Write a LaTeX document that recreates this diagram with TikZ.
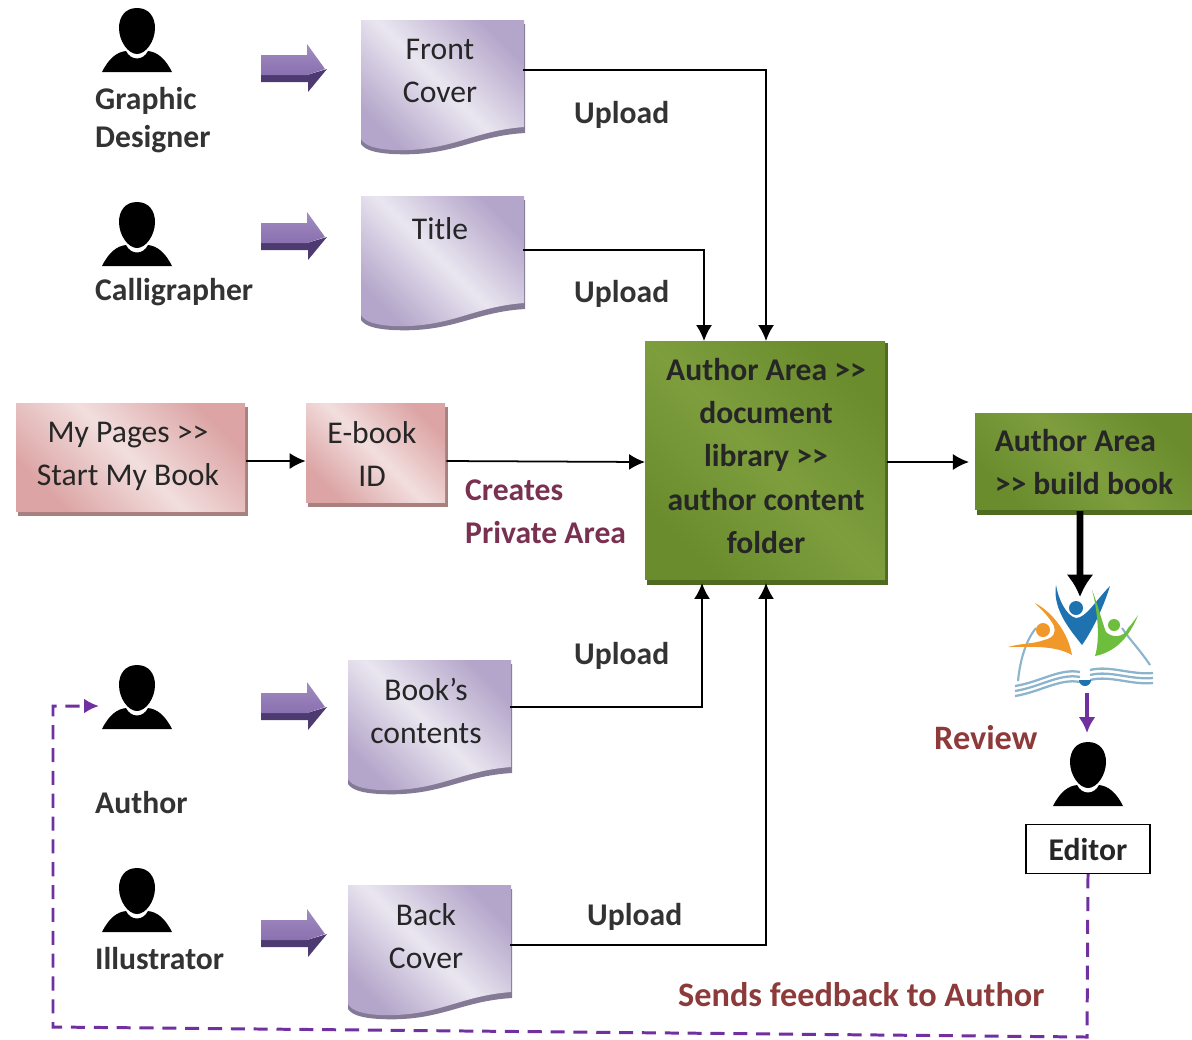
\documentclass[tikz,border=0pt]{standalone}
\usepackage{fontspec}
\setmainfont{Carlito}
\usepackage{xcolor}
\usepackage{tikz}
\usetikzlibrary{arrows.meta, positioning}

\definecolor{docdark}{HTML}{B4A6CA}
\definecolor{doclight}{HTML}{EAE6F0}
\definecolor{docedge}{HTML}{857A96}
\definecolor{pinkdark}{HTML}{DCA4A4}
\definecolor{pinklight}{HTML}{F2DEDE}
\definecolor{pinkedge}{HTML}{A98080}
\definecolor{greendark}{HTML}{6A8C2C}
\definecolor{greenlight}{HTML}{7E9E3E}
\definecolor{greenedge}{HTML}{4F6B20}
\definecolor{arrowface}{HTML}{8A70B0}
\definecolor{arrowedge}{HTML}{4C3A70}
\definecolor{labelbrown}{HTML}{8C3A3A}
\definecolor{labelplum}{HTML}{7A3050}
\definecolor{feedback}{HTML}{7030A0}
\definecolor{logoblue}{HTML}{1F72B0}
\definecolor{logoorange}{HTML}{F0982A}
\definecolor{logogreen}{HTML}{6CBE3C}
\definecolor{logopage}{HTML}{8CB4CC}

\tikzset{
    boxtext/.style={align=center, font=\fontsize{18}{24.4}\selectfont, text=black!85},
    greentext/.style={align=center, font=\fontsize{18}{24.6}\selectfont\bfseries, text=black!85},
    lbl/.style={align=left, anchor=west, font=\fontsize{18}{22}\selectfont\bfseries, text=black!80},
    flow/.style={-{Latex[length=3.2mm, width=3.2mm]}, line width=1pt},
    docshade/.style={left color=docdark, right color=docdark, middle color=doclight, shading angle=135},
    pinkshade/.style={left color=pinkdark, right color=pinkdark, middle color=pinklight, shading angle=135},
    greenshade/.style={left color=greendark, right color=greendark, middle color=greenlight, shading angle=135},
}

\newcommand{\docshape}[2]{
    \begin{scope}[shift={(#1,#2)}]
        \fill[docedge] (0,4) -- (164,4) -- (164,113) .. controls (112,116) and (92,137) .. (32,134) .. controls (14,133) and (4,130) .. (0,124) -- cycle;
        \shade[docshade] (0,0) -- (163,0) -- (163,107) .. controls (110,111) and (90,132) .. (32,130) .. controls (15,129) and (4,126) .. (0,119) -- cycle;
    \end{scope}
}
\newcommand{\person}[2]{
    \begin{scope}[shift={(#1,#2)}]
        \fill (-35,64) .. controls (-28,50) and (-20,44) .. (-11,43) .. controls (-6,53) and (6,53) .. (11,43) .. controls (20,44) and (28,50) .. (35,64) -- cycle;
        \fill (0,0) .. controls (12,0) and (18,9) .. (18,20) .. controls (18,33) and (9,46) .. (0,46) .. controls (-9,46) and (-18,33) .. (-18,20) .. controls (-18,9) and (-12,0) .. (0,0) -- cycle;
    \end{scope}
}
\newcommand{\fatarrow}[2]{
    \begin{scope}[shift={(#1,#2)}]
        \fill[arrowedge] (0,6) -- (0,13) -- (47,13) -- (47,23) -- (66,0) -- (46,6) -- cycle;
        \shade[top color=arrowface!80, bottom color=arrowface] (0,-14) -- (46,-14) -- (46,-25) -- (64,0) -- (46,6) -- (0,6) -- cycle;
    \end{scope}
}

\begin{document}
\begin{tikzpicture}[x=0.02cm, y=-0.02cm]
    \useasboundingbox (0,0) rectangle (1192,1039);

    \docshape{361}{20}
    \docshape{361}{196}
    \docshape{348}{660}
    \docshape{348}{885}

    \fill[pinkedge] (18,407) rectangle (248,516);
    \shade[pinkshade] (16,403) rectangle (245,511);
    \fill[pinkedge] (308,407) rectangle (448,507);
    \shade[pinkshade] (306,403) rectangle (445,502);
    \fill[greenedge] (647,343) rectangle (888,585);
    \shade[greenshade] (645,341) rectangle (885,579);
    \fill[greenedge] (977,415) rectangle (1192,515);
    \shade[greenshade] (975,413) rectangle (1192,509);

    \person{137}{8}
    \person{137}{202}
    \person{137}{665}
    \person{137}{868}
    \person{1088}{742}

    \fatarrow{261}{69}
    \fatarrow{261}{237}
    \fatarrow{261}{707}
    \fatarrow{261}{934}

    \node[boxtext, minimum width=3.32cm] (front) at (440,71) {Front\\Cover};
    \node[boxtext, minimum width=3.32cm] (title) at (440,250) {Title\\~};
    \node[boxtext, minimum width=3.36cm] (books) at (426,711) {Book’s\\contents};
    \node[boxtext, minimum width=3.36cm] (back) at (426,936) {Back\\Cover};
    \node[minimum width=4.6cm, minimum height=2.2cm] (mypages) at (131,461) {};
    \node[boxtext] (mypagestext) at (128,456) {My Pages >{}>\\Start My Book};
    \node[minimum width=2.8cm, minimum height=2cm] (ebook) at (376,461) {};
    \node[boxtext] (ebooktext) at (372,454) {E-book\\ID};
    \node[minimum width=4.84cm, minimum height=4.84cm, outer sep=0pt] (library) at (766,462) {};
    \node[greentext] (librarytext) at (766,456) {Author Area >{}>\\document\\library >{}>\\author content\\folder};
    \node[greentext, align=left, minimum width=4.3cm, minimum height=1.95cm] (build) at (1084,462) {Author Area\\>{}> build book};
    \node[draw, line width=0.8pt, boxtext, font=\fontsize{18}{20}\selectfont\bfseries, minimum width=2.48cm, minimum height=0.98cm, inner sep=0pt] (editor) at (1088,849) {Editor};

    \node[lbl] (designer) at (89,120) {Graphic\\Designer};
    \node[lbl] (calligrapher) at (89,292) {Calligrapher};
    \node[lbl] (author) at (89,802) {Author};
    \node[lbl] (illustrator) at (89,958) {Illustrator};
    \node[lbl] (upfront) at (568,115) {Upload};
    \node[lbl] (uptitle) at (568,294) {Upload};
    \node[lbl] (upbooks) at (568,656) {Upload};
    \node[lbl] (upback) at (581,917) {Upload};
    \node[lbl, text=labelplum, font=\fontsize{18}{24.4}\selectfont\bfseries] (creates) at (459,512) {Creates\\Private Area};
    \node[lbl, text=labelbrown, font=\fontsize{19.5}{22}\selectfont\bfseries] (review) at (928,738) {Review};
    \node[lbl, text=labelbrown, font=\fontsize{19.5}{22}\selectfont\bfseries] (sends) at (672,995) {Sends feedback to Author};

    \coordinate (logo) at (1080,597);
    \coordinate (logobase) at (1087,693);
    \coordinate (editortop) at (1087,733);
    \coordinate (authorin) at (99,706);
    \coordinate (turnright) at (1087,1037);
    \coordinate (turnleft) at (53,1027);
    \coordinate (turnup) at (53,706);

    \draw[logopage, line width=1.2pt] (1018,681) .. controls (1020,660) and (1026,640) .. (1036,628);
    \draw[logopage, line width=1.2pt] (1150,665) .. controls (1140,650) and (1130,640) .. (1122,628);
    \fill[logoorange] (1008,647) .. controls (1022,643) and (1034,644) .. (1044,640) .. controls (1054,638) and (1056,632) .. (1054,626) .. controls (1050,618) and (1042,610) .. (1035,603) .. controls (1052,612) and (1068,632) .. (1072,655) .. controls (1054,645) and (1032,647) .. (1008,647) -- cycle;
    \fill[logoorange] (1043,630) circle (7);
    \fill[logoblue] (1056,585) .. controls (1058,598) and (1066,616) .. (1076,618) .. controls (1086,618) and (1096,600) .. (1110,586) .. controls (1104,605) and (1094,628) .. (1082,645) .. controls (1072,632) and (1052,610) .. (1056,585) -- cycle;
    \fill[logoblue] (1076,608) circle (7);
    \fill[logogreen] (1092,590) .. controls (1098,605) and (1102,622) .. (1106,632) .. controls (1112,638) and (1124,638) .. (1128,628) .. controls (1132,624) and (1136,618) .. (1138,615) .. controls (1130,636) and (1116,652) .. (1095,656) .. controls (1100,640) and (1098,612) .. (1092,590) -- cycle;
    \fill[logogreen] (1114,625) circle (6);
    \foreach \off in {0,5,10} {
        \draw[logopage, line width=1.3pt] (1080,{672+\off}) .. controls (1060,{668+\off}) and (1040,{682+\off}) .. (1015,{686+\off});
        \draw[logopage, line width=1.3pt] (1090,{670+\off}) .. controls (1110,{665+\off}) and (1130,{675+\off}) .. (1153,{673+\off});
    }
    \fill[logoblue] (1079,680) arc (180:0:6) -- cycle;

    \draw[flow] ([yshift=0.02cm]front.east) -| (library.north);
    \draw[flow] (title.east) -| ([xshift=-1.24cm]library.north);
    \draw[flow] (mypages.east) -- (ebook.west);
    \draw[flow] (ebook.east) -- (library.west);
    \draw[flow] (library.east) -- ++(82,0);
    \draw[flow] ([yshift=0.08cm]books.east) -| ([xshift=-1.28cm]library.south);
    \draw[flow] ([yshift=-0.18cm]back.east) -| (library.south);
    \draw[-{Latex[length=4.5mm, width=5.5mm]}, line width=3.8pt] ([xshift=-0.08cm]build.south) -- (logo);
    \draw[-{Latex[length=3.2mm, width=3.4mm]}, feedback, line width=2.4pt] (logobase) -- (editortop);
    \draw[-{Latex[length=3mm, width=3mm]}, feedback, dash pattern=on 8pt off 5pt, line width=1.7pt] (editor.south) -- (turnright) -- (turnleft) -- (turnup) -- (authorin);
\end{tikzpicture}
\end{document}
